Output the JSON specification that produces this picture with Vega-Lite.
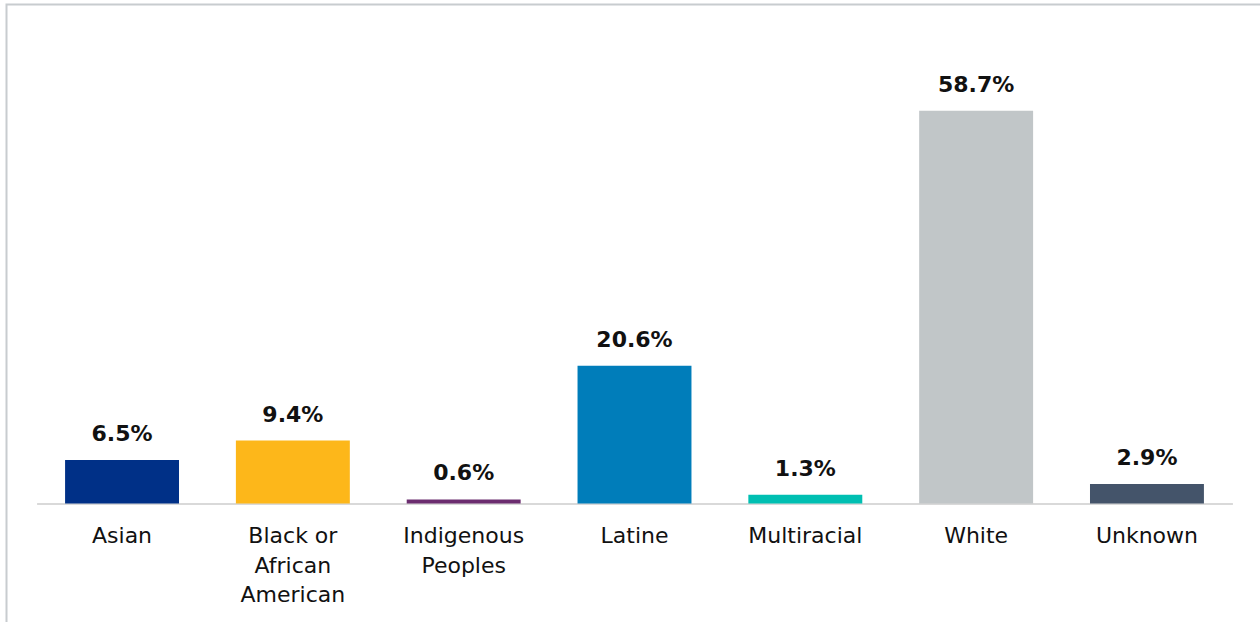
{
  "$schema": "https://vega.github.io/schema/vega-lite/v6.json",
  "width": 1260,
  "height": 622,
  "padding": {"left": 6.5, "top": 4.5, "right": 0, "bottom": 0},
  "autosize": {"type": "pad"},
  "background": "white",
  "config": {
    "view": {"stroke": "#c8cccf", "strokeWidth": 2},
    "font": "DejaVu Sans"
  },
  "data": {
    "values": [
      {"group": "Asian", "pct": 6.5, "label": "6.5%"},
      {"group": "Black or African American", "pct": 9.4, "label": "9.4%"},
      {"group": "Indigenous Peoples", "pct": 0.6, "label": "0.6%"},
      {"group": "Latine", "pct": 20.6, "label": "20.6%"},
      {"group": "Multiracial", "pct": 1.3, "label": "1.3%"},
      {"group": "White", "pct": 58.7, "label": "58.7%"},
      {"group": "Unknown", "pct": 2.9, "label": "2.9%"}
    ]
  },
  "encoding": {
    "x": {
      "field": "group",
      "type": "nominal",
      "sort": null,
      "scale": {"range": [30.1, 1225.9], "paddingInner": 0.333, "paddingOuter": 0.1667},
      "axis": {
        "title": null,
        "orient": "bottom",
        "offset": -123,
        "labelAngle": 0,
        "ticks": false,
        "domainColor": "#d9d9d9",
        "domainWidth": 2,
        "labelFont": "DejaVu Sans",
        "labelFontSize": 22,
        "labelColor": "#111111",
        "labelBaseline": "alphabetic",
        "labelPadding": 39,
        "labelLineHeight": 29.5,
        "labelExpr": "datum.value == 'Black or African American' ? ['Black or', 'African', 'American'] : datum.value == 'Indigenous Peoples' ? ['Indigenous', 'Peoples'] : datum.value"
      }
    },
    "y": {
      "field": "pct",
      "type": "quantitative",
      "scale": {"domain": [-18.4, 74.6], "nice": false, "zero": false},
      "axis": null
    }
  },
  "layer": [
    {
      "mark": {"type": "bar", "opacity": 1},
      "encoding": {
        "y2": {"datum": 0},
        "color": {
          "field": "group",
          "type": "nominal",
          "sort": null,
          "legend": null,
          "scale": {
            "domain": ["Asian", "Black or African American", "Indigenous Peoples", "Latine", "Multiracial", "White", "Unknown"],
            "range": ["#003087", "#FDB71A", "#6B2C6F", "#007DBA", "#00BFB2", "#C1C6C8", "#44546A"]
          }
        }
      }
    },
    {
      "mark": {"type": "text", "baseline": "alphabetic", "dy": -19, "fontSize": 22, "fontWeight": "bold", "color": "#111111", "font": "DejaVu Sans"},
      "encoding": {"text": {"field": "label"}}
    }
  ]
}
